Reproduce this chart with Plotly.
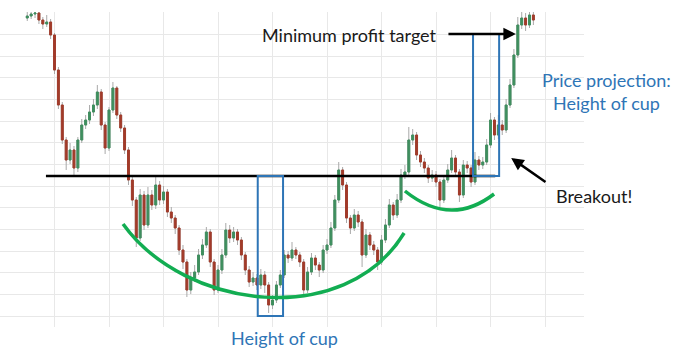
import plotly.graph_objects as go

# ---- data (price units) ----
bar_index = list(range(7, 138))
first_open = 309
close = [311, 313, 314, 307, 303, 305, 292, 257, 222, 187,
         167, 177, 159, 187, 202, 207, 215, 222, 235, 202,
         179, 217, 239, 212, 199, 177, 147, 127, 89, 132,
         102, 132, 122, 142, 127, 135, 115, 109, 99, 77,
         65, 37, 49, 55, 72, 82, 95, 65, 37, 57,
         72, 97, 89, 95, 87, 72, 57, 45, 49, 42,
         52, 42, 22, 27, 42, 52, 72, 69, 77, 72,
         65, 37, 55, 69, 62, 57, 77, 82, 99, 127,
         157, 142, 109, 99, 112, 105, 72, 92, 82, 77,
         65, 87, 102, 122, 112, 127, 152, 155, 187, 192,
         172, 165, 159, 149, 152, 145, 127, 147, 157, 169,
         155, 132, 162, 159, 145, 167, 162, 165, 182, 207,
         192, 202, 197, 222, 242, 272, 302, 309, 302, 312,
         307]
high = [315, 317, 318, 318, 310, 312, 308, 294, 260, 225,
        190, 184, 181, 190, 208, 212, 222, 228, 242, 238,
        205, 220, 245, 241, 215, 202, 180, 150, 130, 138,
        136, 140, 137, 150, 146, 141, 138, 120, 112, 102,
        82, 68, 55, 62, 78, 88, 100, 98, 68, 62,
        78, 104, 102, 100, 98, 90, 75, 61, 55, 53,
        58, 56, 45, 32, 46, 57, 77, 76, 85, 80,
        75, 68, 60, 74, 72, 65, 82, 88, 105, 132,
        165, 160, 145, 112, 118, 116, 108, 98, 95, 86,
        80, 92, 108, 128, 125, 133, 158, 162, 200, 198,
        195, 176, 169, 162, 157, 156, 148, 152, 163, 177,
        172, 158, 167, 166, 162, 175, 171, 170, 188, 214,
        210, 212, 207, 228, 248, 278, 310, 318, 314, 320,
        318]
low = [306, 308, 309, 303, 298, 300, 288, 253, 218, 183,
       157, 163, 150, 155, 184, 198, 203, 211, 218, 197,
       173, 176, 214, 208, 195, 173, 142, 121, 80, 86,
       97, 99, 117, 118, 122, 123, 110, 104, 93, 72,
       58, 30, 33, 45, 52, 68, 79, 60, 32, 34,
       53, 69, 84, 85, 82, 67, 52, 40, 41, 37,
       38, 34, 14, 18, 24, 39, 49, 64, 66, 68,
       60, 30, 34, 52, 57, 50, 54, 73, 79, 96,
       124, 137, 104, 93, 96, 100, 60, 69, 77, 72,
       57, 62, 84, 99, 107, 109, 124, 148, 152, 182,
       167, 160, 154, 144, 145, 140, 118, 124, 144, 154,
       150, 125, 129, 154, 140, 142, 157, 158, 162, 179,
       187, 188, 192, 194, 219, 239, 269, 298, 296, 299,
       302]
open_ = [first_open] + close[:-1]
body_top = [max(o, c) for o, c in zip(open_, close)]
body_bot = [min(o, c) for o, c in zip(open_, close)]

# pattern levels (price) and bar positions
neckline = 151
cup_bottom = 11
target = 293
neck_start, neck_end = 11.8, 127.2
cup_x0, cup_x1 = 66.2, 72.7
proj_x0, proj_x1 = 121.5, 128.2

GREEN_UP = '#3f8f5f'
RED_DOWN = '#a23b2a'
WICK = '#a9a9a9'
BLUE = '#2e75b6'
ARC = '#12ad52'
TXT = '#1a1a1a'
FONT = 'Lato'
FS = 18

fig = go.Figure()
fig.add_trace(go.Candlestick(
    x=bar_index, open=open_, high=high, low=low, close=close,
    increasing=dict(line=dict(color=WICK, width=1), fillcolor=WICK),
    decreasing=dict(line=dict(color=WICK, width=1), fillcolor=WICK),
    whiskerwidth=0, showlegend=False, hoverinfo='skip'))
fig.add_trace(go.Candlestick(
    x=bar_index, open=open_, high=body_top, low=body_bot, close=close,
    increasing=dict(line=dict(color=GREEN_UP, width=1), fillcolor=GREEN_UP),
    decreasing=dict(line=dict(color=RED_DOWN, width=1), fillcolor=RED_DOWN),
    whiskerwidth=0, showlegend=False, hoverinfo='skip'))

shapes = [
    dict(type='line', xref='x', yref='y', x0=neck_start, x1=neck_end,
         y0=neckline, y1=neckline, line=dict(color='black', width=2.5)),
    dict(type='rect', xref='x', yref='y', x0=cup_x0, x1=cup_x1,
         y0=cup_bottom, y1=neckline, line=dict(color=BLUE, width=2)),
    dict(type='rect', xref='x', yref='y', x0=proj_x0, x1=proj_x1,
         y0=neckline, y1=target, line=dict(color=BLUE, width=2)),
    dict(type='path', xref='x', yref='y',
         path='M 31.6,103 C 47.5,17 88.6,-3 103.8,94',
         line=dict(color=ARC, width=3.5)),
    dict(type='path', xref='x', yref='y',
         path='M 104.0,136 Q 115.7,99.5 126.9,133',
         line=dict(color=ARC, width=3.5)),
]


def label(x, y, text, color, xref='paper', yref='paper'):
    return dict(x=x, y=y, xref=xref, yref=yref, text=text, showarrow=False,
                xanchor='center', yanchor='middle',
                font=dict(family=FONT, size=FS, color=color))


annotations = [
    dict(x=132.5, y=target, ax=114.8, ay=target, xref='x', yref='y',
         axref='x', ayref='y', showarrow=True, arrowhead=2, arrowsize=1,
         arrowwidth=2.5, arrowcolor='black', text=''),
    dict(x=131.3, y=169, ax=140.5, ay=144, xref='x', yref='y',
         axref='x', ayref='y', showarrow=True, arrowhead=2, arrowsize=1,
         arrowwidth=2.5, arrowcolor='black', text=''),
    label(89.8, 292, 'Minimum profit target', TXT, 'x', 'y'),
    label(1.0377, 0.784, 'Price projection:', BLUE),
    label(1.0377, 0.711, 'Height of cup', BLUE),
    label(1.017, 0.416, 'Breakout!', TXT),
    label(0.488, -0.035, 'Height of cup', BLUE),
]

fig.update_layout(
    width=686, height=364,
    margin=dict(l=0, r=102, t=12, b=37),
    paper_bgcolor='white', plot_bgcolor='white',
    shapes=shapes, annotations=annotations,
    showlegend=False,
    xaxis=dict(range=[0, 150], tick0=0, dtick=14, showgrid=True,
               gridcolor='#e8e8e8', gridwidth=1, zeroline=False,
               showticklabels=False, showline=False,
               rangeslider=dict(visible=False), fixedrange=True),
    yaxis=dict(range=[0, 315], tick0=11, dtick=21.65, showgrid=True,
               gridcolor='#e8e8e8', gridwidth=1, zeroline=False,
               showticklabels=False, showline=False, fixedrange=True),
)

fig.write_html('out.html')
